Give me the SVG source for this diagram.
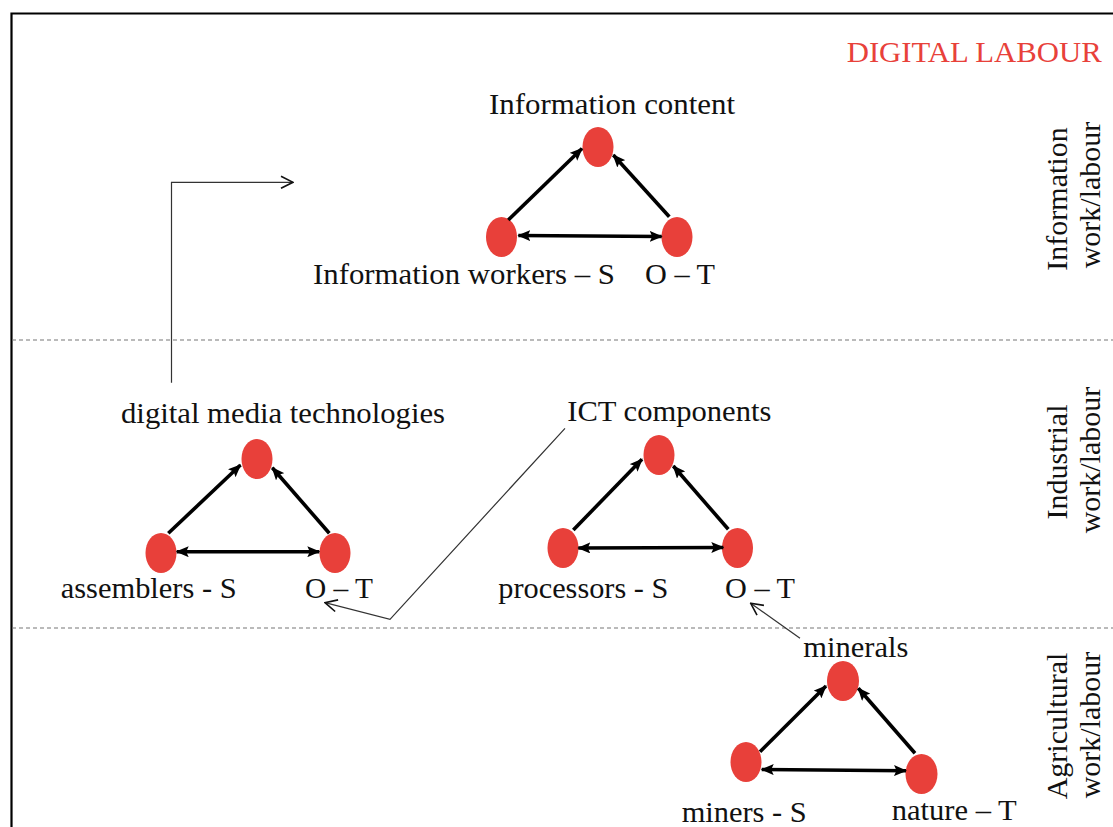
<svg xmlns="http://www.w3.org/2000/svg" width="1113" height="827" viewBox="0 0 1113 827">
<defs>
<style>
text{font-family:"Liberation Serif","Times New Roman",serif;font-size:30px;fill:#111;}
.title{fill:#e8413a;}
.node{fill:#e8403a;}
.thick{stroke:#000;stroke-width:3.6;fill:none;marker-end:url(#ah);}
.dbl{stroke:#000;stroke-width:3.6;fill:none;marker-end:url(#ah);marker-start:url(#ah);}
.thin{stroke:#333;stroke-width:1.2;fill:none;marker-end:url(#oh);}
.sep{stroke:#777;stroke-width:1.2;stroke-dasharray:4 3;fill:none;}
</style>
<marker id="ah" viewBox="0 0 13 11" refX="12" refY="5.5" markerWidth="13" markerHeight="11" markerUnits="userSpaceOnUse" orient="auto-start-reverse">
<path d="M0,0 L13,5.5 L0,11 L2.5,5.5 z" fill="#000"/>
</marker>
<marker id="oh" viewBox="0 0 14 14" refX="13" refY="7" markerWidth="14" markerHeight="14" markerUnits="userSpaceOnUse" orient="auto">
<path d="M1,1 L13,7 L1,13" fill="none" stroke="#111" stroke-width="1.6"/>
</marker>
</defs>
<rect width="1113" height="827" fill="#fff"/>
<path d="M11.5,827 V13.5 H1113" stroke="#000" stroke-width="2.2" fill="none"/>
<g id="separators">
<line class="sep" x1="12" y1="340" x2="1113" y2="340"/>
<line class="sep" x1="12" y1="628" x2="1113" y2="628"/>
</g>
<text id="title" class="title" x="846.7" y="61.7" textLength="255" lengthAdjust="spacingAndGlyphs">DIGITAL LABOUR</text>
<g id="level-labels">
<text transform="translate(1067,199) rotate(-90)" text-anchor="middle">Information</text>
<text transform="translate(1100,195) rotate(-90)" text-anchor="middle">work/labour</text>
<text transform="translate(1067,462) rotate(-90)" text-anchor="middle">Industrial</text>
<text transform="translate(1100,460) rotate(-90)" text-anchor="middle">work/labour</text>
<text transform="translate(1067,726) rotate(-90)" text-anchor="middle">Agricultural</text>
<text transform="translate(1100,725) rotate(-90)" text-anchor="middle">work/labour</text>
</g>
<g id="info-content">
<ellipse class="node" cx="598" cy="147" rx="15.5" ry="20"/>
<text x="489" y="114.3" textLength="246" lengthAdjust="spacingAndGlyphs">Information content</text>
</g>
<g id="info-workers">
<ellipse class="node" cx="501.5" cy="237" rx="15.5" ry="20"/>
<text x="313" y="284" textLength="302" lengthAdjust="spacingAndGlyphs">Information workers – S</text>
</g>
<g id="info-ot">
<ellipse class="node" cx="677" cy="237" rx="15.5" ry="20"/>
<text x="645" y="284" textLength="70" lengthAdjust="spacingAndGlyphs">O – T</text>
</g>
<g id="dmt">
<ellipse class="node" cx="257" cy="459" rx="15.5" ry="20"/>
<text x="121" y="422.5" textLength="324" lengthAdjust="spacingAndGlyphs">digital media technologies</text>
</g>
<g id="assemblers">
<ellipse class="node" cx="161" cy="553" rx="15.5" ry="20"/>
<text x="60.7" y="598.3" textLength="176" lengthAdjust="spacingAndGlyphs">assemblers - S</text>
</g>
<g id="assemblers-ot">
<ellipse class="node" cx="335" cy="553" rx="15.5" ry="20"/>
<text x="305" y="598.3" textLength="68" lengthAdjust="spacingAndGlyphs">O – T</text>
</g>
<g id="ict">
<ellipse class="node" cx="659" cy="455" rx="15.5" ry="20"/>
<text x="567.3" y="420.7" textLength="204" lengthAdjust="spacingAndGlyphs">ICT components</text>
</g>
<g id="processors">
<ellipse class="node" cx="563" cy="548" rx="15.5" ry="20"/>
<text x="498.3" y="598.3" textLength="170" lengthAdjust="spacingAndGlyphs">processors - S</text>
</g>
<g id="processors-ot">
<ellipse class="node" cx="737.5" cy="548" rx="15.5" ry="20"/>
<text x="725" y="598.3" textLength="70" lengthAdjust="spacingAndGlyphs">O – T</text>
</g>
<g id="minerals">
<ellipse class="node" cx="843" cy="681" rx="16" ry="20"/>
<text x="803.3" y="657.3" textLength="105" lengthAdjust="spacingAndGlyphs">minerals</text>
</g>
<g id="miners">
<ellipse class="node" cx="746" cy="762" rx="15.5" ry="20"/>
<text x="681.7" y="822" textLength="125" lengthAdjust="spacingAndGlyphs">miners - S</text>
</g>
<g id="nature">
<ellipse class="node" cx="921.5" cy="774" rx="16" ry="20"/>
<text x="891.7" y="820" textLength="125" lengthAdjust="spacingAndGlyphs">nature – T</text>
</g>
<g id="connectors">
<line class="thick" x1="508.3" y1="220" x2="582" y2="148.5"/>
<line class="thick" x1="669.3" y1="216.7" x2="613.3" y2="155"/>
<line class="dbl" x1="518.3" y1="235.5" x2="661.7" y2="236.5"/>
<line class="thick" x1="168.3" y1="533.3" x2="240.5" y2="465"/>
<line class="thick" x1="329.3" y1="533.3" x2="272.3" y2="467.7"/>
<line class="dbl" x1="176.7" y1="551.7" x2="319.3" y2="551.7"/>
<line class="thick" x1="573.3" y1="530" x2="642" y2="459.3"/>
<line class="thick" x1="728.3" y1="529.3" x2="673.3" y2="466"/>
<line class="dbl" x1="578.3" y1="548" x2="723.3" y2="547.5"/>
<line class="thick" x1="760" y1="751.7" x2="826" y2="686"/>
<line class="thick" x1="915" y1="753.3" x2="858.3" y2="688.3"/>
<line class="dbl" x1="761.7" y1="769.5" x2="906" y2="770.7"/>
<path class="thin" d="M171.5,382.7 V182.3 H293"/>
<path class="thin" d="M565,428.3 L390,619.3 L325,602.7"/>
<path class="thin" d="M800,638.3 L750.7,603.3"/>
</g>
</svg>
